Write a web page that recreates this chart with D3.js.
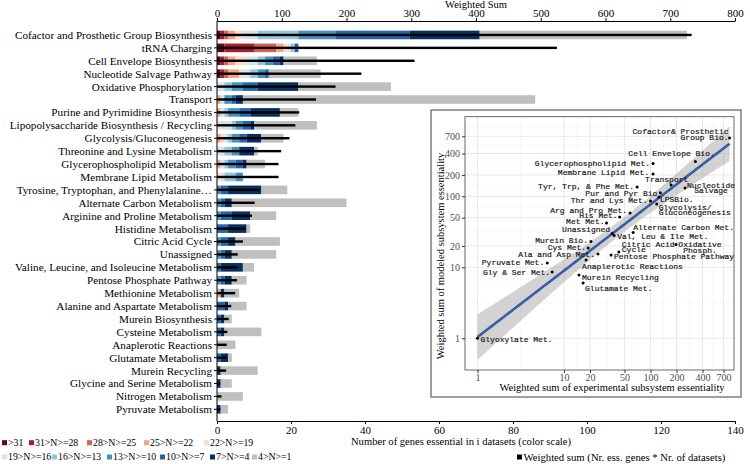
<!DOCTYPE html>
<html>
<head>
<meta charset="utf-8">
<script src="https://cdn.jsdelivr.net/npm/d3@7"></script>
<style>
    body { margin: 0; background: #fff; }
    svg { display: block; font-family: "Liberation Serif", "Times New Roman", serif; }
</style>
</head>
<body>
<script>
// ---- data ----
const subsystems = [
    "Cofactor and Prosthetic Group Biosynthesis", "tRNA Charging", "Cell Envelope Biosynthesis",
    "Nucleotide Salvage Pathway", "Oxidative Phosphorylation", "Transport",
    "Purine and Pyrimidine Biosynthesis", "Lipopolysaccharide Biosynthesis / Recycling",
    "Glycolysis/Gluconeogenesis", "Threonine and Lysine Metabolism", "Glycerophospholipid Metabolism",
    "Membrane Lipid Metabolism", "Tyrosine, Tryptophan, and Phenylalanine\u2026", "Alternate Carbon Metabolism",
    "Arginine and Proline Metabolism", "Histidine Metabolism", "Citric Acid Cycle", "Unassigned",
    "Valine, Leucine, and Isoleucine Metabolism", "Pentose Phosphate Pathway", "Methionine Metabolism",
    "Alanine and Aspartate Metabolism", "Murein Biosynthesis", "Cysteine Metabolism",
    "Anaplerotic Reactions", "Glutamate Metabolism", "Murein Recycling", "Glycine and Serine Metabolism",
    "Nitrogen Metabolism", "Pyruvate Metabolism",
];

const binLabels = [">31", "31>N>=28", "28>N>=25", "25>N>=22", "22>N>=19",
    "19>N>=16", "16>N>=13", "13>N>=10", "10>N>=7", "7>N>=4", "4>N>=1"];

// genes per bin (same order as binLabels), one row per subsystem
const essentialCounts = [
    [1, 1, 1, 2, 2, 4, 11, 10, 20, 19, 56],
    [2, 8, 6, 2, 1, 1, 1, 0, 1, 0, 0],
    [1, 1, 1, 2, 3, 3, 2, 2, 2, 1, 9],
    [1, 1, 1, 3, 1, 2, 2, 2, 1, 0, 14],
    [0, 0, 0, 0, 0, 2, 2, 3, 4, 11, 25],
    [0, 0, 0, 1, 0, 1, 0, 2, 1, 2, 79],
    [0, 0, 0, 1, 0, 1, 1, 3, 3, 8, 5],
    [0, 0, 0, 0, 1, 3, 1, 2, 2, 1, 17],
    [0, 0, 0, 1, 1, 1, 1, 2, 2, 4, 6],
    [0, 0, 0, 0, 0, 2, 2, 2, 0, 4, 1],
    [0, 0, 0, 1, 0, 1, 1, 2, 2, 1, 5],
    [0, 0, 0, 0, 1, 1, 3, 2, 0, 0, 0],
    [0, 0, 0, 0, 0, 0, 0, 1, 2, 9, 7],
    [0, 0, 0, 0, 0, 0, 0, 1, 1, 2, 31],
    [0, 0, 0, 0, 0, 0, 0, 1, 3, 5, 7],
    [0, 0, 0, 0, 0, 0, 0, 0, 3, 5, 1],
    [0, 0, 0, 0, 0, 0, 0, 1, 2, 2, 12],
    [0, 0, 0, 0, 0, 0, 0, 1, 1, 2, 12],
    [0, 0, 0, 0, 0, 0, 0, 0, 1, 6, 3],
    [0, 0, 0, 0, 0, 0, 0, 1, 1, 2, 4],
    [0, 0, 0, 1, 0, 0, 0, 0, 0, 1, 4],
    [0, 0, 0, 0, 0, 0, 0, 0, 2, 1, 5],
    [0, 0, 0, 0, 0, 0, 0, 0, 1, 1, 2],
    [0, 0, 0, 0, 0, 0, 0, 0, 1, 1, 10],
    [0, 0, 0, 0, 0, 0, 0, 0, 0, 0, 5],
    [0, 0, 0, 0, 0, 0, 0, 0, 1, 2, 1],
    [0, 0, 0, 0, 0, 0, 0, 0, 0, 1, 10],
    [0, 0, 0, 0, 0, 0, 0, 0, 0, 1, 3],
    [0, 0, 0, 0, 0, 0, 0, 0, 0, 0, 7],
    [0, 0, 0, 0, 0, 0, 0, 0, 0, 1, 2],
];

const weightedSum = [733, 525, 305, 223, 183, 153, 127, 121, 112, 99, 95, 95, 66, 58, 54,
    44, 40, 32, 31.5, 31, 28, 22, 18, 16, 15, 14.5, 14, 5, 7, 5];

const weightedTicks = [0, 100, 200, 300, 400, 500, 600, 700, 800];
const geneTicks = [0, 20, 40, 60, 80, 100, 120, 140];

// inset scatter: experimental vs modeled weighted sums
const scatterNames = [
    "Cofactor& Prosthetic\nGroup Bio.", "Cell Envelope Bio.", "Glycerophospholipid Met.",
    "Membrane Lipid Met.", "Transport", "Nucleotide\nSalvage", "Tyr, Trp, & Phe Met.",
    "Pur and Pyr Bio", "LPSBio.", "Thr and Lys Met.", "Glycolysis/\nGluconeogenesis",
    "Arg and Pro Met.", "His Met.", "Met Met.", "Unassigned", "Alternate Carbon Met.",
    "Val, Leu & Ile Met.", "Murein Bio.", "Citric Acid\nCycle", "Oxidative\nPhosph.",
    "Cys Met.", "Ala and Asp Met.", "Pentose Phosphate Pathway", "Pyruvate Met.",
    "Gly & Ser Met.", "Anaplerotic Reactions", "Murein Recycling", "Glutamate Met.", "Glyoxylate Met.",
];
const expSum = [820, 330, 107, 107, 173, 251, 70, 130, 125, 100, 118, 58, 44, 31, 36, 63,
    38, 20.5, 43, 197, 19, 24.7, 35, 6.4, 7.3, 18, 14.9, 16.6, 1];
const modSum = [660, 310, 290, 206, 144, 131, 135, 112, 98, 86, 78, 58, 51, 42, 30, 31,
    28, 23, 16.4, 21, 18.7, 15.4, 14.9, 11.5, 8.6, 12.7, 7.8, 6.0, 1];
const logTicks = [1, 10, 20, 50, 100, 200, 400, 700];

// ---- layout ----
const width = 750, height = 464;
const binColors = ["#67001f", "#b2182b", "#d6604d", "#f4a582", "#fddbc7",
    "#d1e5f0", "#92c5de", "#4393c3", "#2166ac", "#053061", "#bfbfbf"];

const svg = d3.select("body").append("svg").attr("width", width).attr("height", height);

const xGenes = d3.scaleLinear().domain([0, 140]).range([217, 735]);
const xWeighted = d3.scaleLinear().domain([0, 800]).range([217, 735]);
const y = d3.scaleBand().domain(subsystems).range([28.5, 415.8]);
const rowMid = (name) => y(name) + y.bandwidth() / 2;
const axisTop = 21, axisBottom = 421;

// stacked bars
{
    const segs = [];
    subsystems.forEach((name, i) => {
        let start = 0;
        essentialCounts[i].forEach((n, b) => {
            if (n > 0) segs.push({ name, bin: b, start, end: start + n });
            start += n;
        });
    });

    const bars = svg.append("g").attr("class", "bars");
    bars.selectAll("rect")
        .data(segs)
        .enter()
        .append("rect")
        .attr("x", (d) => xGenes(d.start))
        .attr("y", (d) => rowMid(d.name) - 4.3)
        .attr("width", (d) => xGenes(d.end) - xGenes(d.start))
        .attr("height", 8.6)
        .attr("fill", (d) => binColors[d.bin]);

    // weighted sum line
    svg.append("g")
        .selectAll("rect")
        .data(subsystems)
        .enter()
        .append("rect")
        .attr("x", xWeighted(0))
        .attr("y", (d) => rowMid(d) - 1.2)
        .attr("width", (d, i) => xWeighted(weightedSum[i]) - xWeighted(0))
        .attr("height", 2.4)
        .attr("fill", "#000");
}

// axes
{
    const top = svg.append("g")
        .attr("transform", `translate(0,${axisTop})`)
        .call(d3.axisTop(xWeighted).tickValues(weightedTicks).tickSize(3).tickPadding(1).tickSizeOuter(0));
    const bottom = svg.append("g")
        .attr("transform", `translate(0,${axisBottom})`)
        .call(d3.axisBottom(xGenes).tickValues(geneTicks).tickSize(3).tickPadding(2).tickSizeOuter(0));
    [top, bottom].forEach((ax) => {
        ax.selectAll("text").attr("font-size", 11).attr("font-family", "Liberation Serif").attr("fill", "#000");
        ax.select(".domain").attr("stroke", "#000");
        ax.selectAll(".tick line").attr("stroke", "#000");
    });

    svg.append("line")
        .attr("x1", 217).attr("x2", 217)
        .attr("y1", axisTop).attr("y2", axisBottom)
        .attr("stroke", "#000");

    const left = svg.append("g").attr("class", "rows");
    left.selectAll("line")
        .data(subsystems)
        .enter()
        .append("line")
        .attr("x1", 214).attr("x2", 217)
        .attr("y1", rowMid).attr("y2", rowMid)
        .attr("stroke", "#000");
    left.selectAll("text")
        .data(subsystems)
        .enter()
        .append("text")
        .attr("x", 212)
        .attr("y", rowMid)
        .attr("dy", "0.35em")
        .attr("text-anchor", "end")
        .attr("font-size", 11.2)
        .text((d) => d);

    svg.append("text")
        .attr("x", 476).attr("y", 7.5)
        .attr("text-anchor", "middle")
        .attr("font-size", 10.5)
        .text("Weighted Sum");
    svg.append("text")
        .attr("x", 461).attr("y", 445)
        .attr("text-anchor", "middle")
        .attr("font-size", 10.6)
        .text("Number of genes essential in i datasets (color scale)");
}

// legend
{
    const rows = [[0, 1, 2, 3, 4], [5, 6, 7, 8, 9, 10]];
    const xs = [[2, 29, 87, 144, 204], [2, 52, 107, 160, 210, 252]];
    const ys = [442.7, 457];
    const legend = svg.append("g").attr("id", "legend");
    rows.forEach((r, ri) => {
        r.forEach((b, k) => {
            const g = legend.append("g").attr("transform", `translate(${xs[ri][k]},${ys[ri]})`);
            g.append("rect").attr("x", 0).attr("y", -2.5).attr("width", 5).attr("height", 5).attr("fill", binColors[b]);
            g.append("text").attr("x", 6).attr("dy", "0.35em").attr("font-size", 9.8).text(binLabels[b]);
        });
    });
    const ws = legend.append("g").attr("transform", `translate(517,${ys[1]})`);
    ws.append("rect").attr("x", 0).attr("y", -2.5).attr("width", 5).attr("height", 5).attr("fill", "#000");
    ws.append("text").attr("x", 6.5).attr("dy", "0.35em").attr("font-size", 10.7)
        .text("Weighted sum (Nr. ess. genes * Nr. of datasets)");
}

// inset scatter
{
    const inset = svg.append("g").attr("class", "inset");
    inset.append("rect")
        .attr("x", 431).attr("y", 110).attr("width", 310).attr("height", 287)
        .attr("fill", "#fff").attr("stroke", "#7f7f7f").attr("stroke-width", 1.5);

    const px0 = 465, px1 = 734, py0 = 116.7, py1 = 370;
    const xs = d3.scaleLog().domain([0.717, 923]).range([px0, px1]);
    const ys = d3.scaleLog().domain([0.3577, 1321]).range([py1, py0]);

    // grid (minor = midpoints in log space)
    const minorOf = (ticks, dom) => {
        const lt = ticks.map(Math.log10);
        const out = [Math.pow(10, lt[0] - (lt[1] - lt[0]) / 2)];
        for (let i = 0; i < lt.length - 1; i++) out.push(Math.pow(10, (lt[i] + lt[i + 1]) / 2));
        out.push(Math.pow(10, lt[lt.length - 1] + (lt[lt.length - 1] - lt[lt.length - 2]) / 2));
        return out.filter((v) => v > dom[0] && v < dom[1]);
    };
    const grid = inset.append("g").attr("class", "grid");
    grid.selectAll(".gx-minor").data(minorOf(logTicks, xs.domain())).enter().append("line")
        .attr("x1", xs).attr("x2", xs).attr("y1", py0).attr("y2", py1)
        .attr("stroke", "#f2f2f2").attr("stroke-width", 0.6);
    grid.selectAll(".gy-minor").data(minorOf(logTicks, ys.domain())).enter().append("line")
        .attr("y1", ys).attr("y2", ys).attr("x1", px0).attr("x2", px1)
        .attr("stroke", "#f2f2f2").attr("stroke-width", 0.6);
    grid.selectAll(".gx").data(logTicks).enter().append("line")
        .attr("x1", xs).attr("x2", xs).attr("y1", py0).attr("y2", py1)
        .attr("stroke", "#e8e8e8").attr("stroke-width", 1);
    grid.selectAll(".gy").data(logTicks).enter().append("line")
        .attr("y1", ys).attr("y2", ys).attr("x1", px0).attr("x2", px1)
        .attr("stroke", "#e8e8e8").attr("stroke-width", 1);

    // linear fit in log-log space with 95% band
    const lx = expSum.map(Math.log10), ly = modSum.map(Math.log10);
    const n = lx.length;
    const mx = d3.mean(lx), my = d3.mean(ly);
    const sxx = d3.sum(lx, (v) => (v - mx) ** 2);
    const sxy = d3.sum(lx, (v, i) => (v - mx) * (ly[i] - my));
    const slope = sxy / sxx, icpt = my - slope * mx;
    const s = Math.sqrt(d3.sum(lx, (v, i) => (ly[i] - icpt - slope * v) ** 2) / (n - 2));
    const tq = 2.052;
    const fit = d3.range(0, 81).map((k) => {
        const v = d3.min(lx) + (d3.max(lx) - d3.min(lx)) * k / 80;
        const f = icpt + slope * v;
        const se = s * Math.sqrt(1 / n + (v - mx) ** 2 / sxx);
        return { x: 10 ** v, y: 10 ** f, lo: 10 ** (f - tq * se), hi: 10 ** (f + tq * se) };
    });
    inset.append("path")
        .datum(fit)
        .attr("fill", "#9e9e9e").attr("fill-opacity", 0.45)
        .attr("d", d3.area().x((d) => xs(d.x)).y0((d) => ys(d.lo)).y1((d) => ys(d.hi)));
    inset.append("path")
        .datum(fit)
        .attr("fill", "none").attr("stroke", "#3a5ca6").attr("stroke-width", 2.6)
        .attr("d", d3.line().x((d) => xs(d.x)).y((d) => ys(d.y)));

    inset.append("rect")
        .attr("x", px0).attr("y", py0).attr("width", px1 - px0).attr("height", py1 - py0)
        .attr("fill", "none").attr("stroke", "#444").attr("stroke-width", 0.8);

    // axes
    const ax = inset.append("g").attr("transform", `translate(0,${py1})`)
        .call(d3.axisBottom(xs).tickValues(logTicks).tickFormat(d3.format("d")).tickSize(3).tickPadding(1).tickSizeOuter(0));
    const ay = inset.append("g").attr("transform", `translate(${px0},0)`)
        .call(d3.axisLeft(ys).tickValues(logTicks).tickFormat(d3.format("d")).tickSize(3).tickPadding(2).tickSizeOuter(0));
    [ax, ay].forEach((a) => {
        a.select(".domain").remove();
        a.selectAll(".tick line").attr("stroke", "#333");
        a.selectAll("text").attr("font-family", "Liberation Serif").attr("font-size", 10).attr("fill", "#4d4d4d");
    });

    inset.append("text")
        .attr("x", 612).attr("y", 390.5)
        .attr("text-anchor", "middle").attr("font-size", 10.5)
        .text("Weighted sum of experimental subsystem essentiality");
    inset.append("text")
        .attr("transform", "translate(444,256) rotate(-90)")
        .attr("text-anchor", "middle").attr("font-size", 10.5)
        .text("Weighted sum of modeled subsystem essentiality");

    // points
    inset.append("g").selectAll("circle")
        .data(expSum)
        .enter()
        .append("circle")
        .attr("cx", (d) => xs(d))
        .attr("cy", (d, i) => ys(modSum[i]))
        .attr("r", 1.5)
        .attr("fill", "#000");

    // label placement: [dx, dy of first line, anchor]
    const labelPos = [
        [-1, -6.6, "end"], [-67, -8, "start"], [-3, 0, "end"], [-4, -2, "end"], [-26, -6, "start"],
        [26, -3, "middle"], [-3, -1, "end"], [-3, 0, "end"], [1, 2, "start"], [-3, -1, "end"],
        [2, 3, "start"], [-3, -3, "end"], [-2, -2, "end"], [-2, -2, "end"], [-2, -4, "end"],
        [0, -5, "start"], [3, 1, "start"], [-3, -1, "end"], [3, -8, "start"], [24, 0, "middle"],
        [-2, -1, "end"], [-3, 0, "end"], [3, 1, "start"], [-3, -1, "end"], [-2, 0, "end"],
        [-4, 6, "start"], [3, 2, "start"], [2, 5, "start"], [3, 1, "start"],
    ];
    const labels = inset.append("g")
        .attr("font-family", "Liberation Mono, DejaVu Sans Mono, monospace")
        .attr("font-size", 8)
        .attr("fill", "#1a1a1a")
        .attr("stroke", "#1a1a1a")
        .attr("stroke-width", 0.2);
    scatterNames.forEach((name, i) => {
        const [dx, dy, anchor] = labelPos[i];
        const t = labels.append("text")
            .attr("text-anchor", anchor)
            .attr("x", xs(expSum[i]) + dx)
            .attr("y", ys(modSum[i]) + dy);
        name.split("\n").forEach((line, k) => {
            t.append("tspan")
                .attr("x", xs(expSum[i]) + dx)
                .attr("y", ys(modSum[i]) + dy + k * 5.6)
                .attr("dy", "0.35em")
                .text(line);
        });
    });
}
</script>
</body>
</html>
